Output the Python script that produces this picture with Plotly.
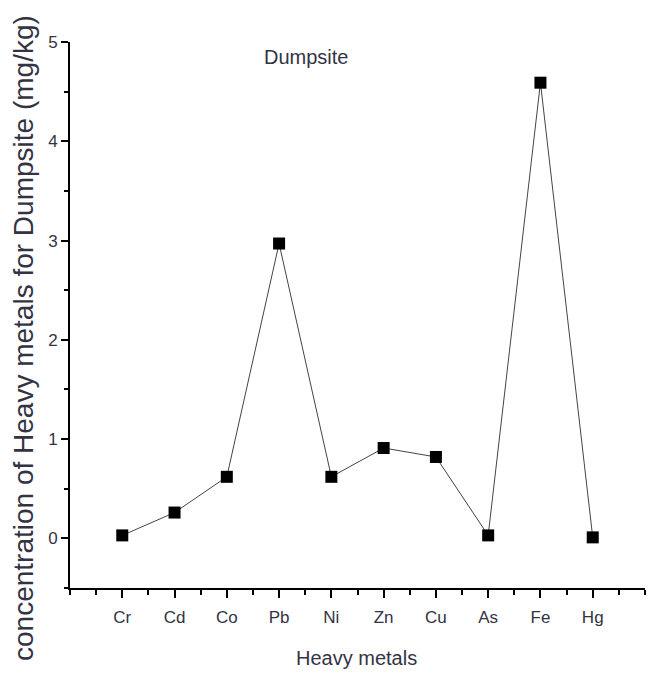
import plotly.graph_objects as go

metals = ["Cr", "Cd", "Co", "Pb", "Ni", "Zn", "Cu", "As", "Fe", "Hg"]
concentration = [0.03, 0.26, 0.62, 2.97, 0.62, 0.91, 0.82, 0.03, 4.59, 0.01]
y_ticks = [0, 1, 2, 3, 4, 5]

x_pos = list(range(len(metals)))
txt = "#333344"
narrow = "Liberation Sans Narrow, Arial Narrow, Liberation Sans, Arial"

# plot area in page pixels: x 70..645, y 42..588
L, R, T, B = 70, 3, 42, 86
PW, PH = 648 - L - R, 674 - T - B


def px(xp):
    return (xp - L) / PW


def py(yp):
    return (674 - B - yp) / PH


fig = go.Figure()
fig.add_trace(go.Scatter(
    x=x_pos, y=concentration, mode="lines+markers",
    line=dict(color="#444444", width=1),
    marker=dict(symbol="square", size=12, color="black"),
    showlegend=False,
))

ann = dict(xref="paper", yref="paper", showarrow=False, xanchor="center", yanchor="middle")
fig.update_layout(
    width=648, height=674,
    margin=dict(l=L, r=R, t=T, b=B),
    paper_bgcolor="white", plot_bgcolor="white",
    font=dict(family="Liberation Sans, Arial", color=txt),
    annotations=[
        dict(text="Dumpsite", x=px(306), y=py(57), font=dict(size=20, color=txt), **ann),
        dict(text="Heavy metals", x=px(356), y=py(658), font=dict(size=20, color=txt), **ann),
        dict(text="concentration of Heavy metals for Dumpsite (mg/kg)", textangle=-90,
             x=px(23), y=py(338), font=dict(size=28, color=txt), **ann),
    ],
)
fig.update_xaxes(
    range=[-1, 10], tickvals=x_pos, ticktext=metals, automargin=False,
    showgrid=False, zeroline=False, showline=True, linecolor="black", linewidth=2,
    ticks="outside", ticklen=8, tickwidth=2, tickcolor="black",
    minor=dict(dtick=0.5, tick0=-0.5, ticks="outside", ticklen=5, tickwidth=2, tickcolor="black"),
    tickfont=dict(size=17, color=txt, family=narrow),
    ticklabelstandoff=5,
)
fig.update_yaxes(
    range=[-0.5, 5], tickvals=y_ticks, automargin=False,
    showgrid=False, zeroline=False, showline=True, linecolor="black", linewidth=2,
    ticks="outside", ticklen=7, tickwidth=2, tickcolor="black",
    minor=dict(dtick=0.5, tick0=0, ticks="outside", ticklen=4, tickwidth=2, tickcolor="black"),
    tickfont=dict(size=17, color=txt, family=narrow),
)
fig.write_html("out.html", config={"displayModeBar": False},
               post_script="document.body.style.margin='0';")
